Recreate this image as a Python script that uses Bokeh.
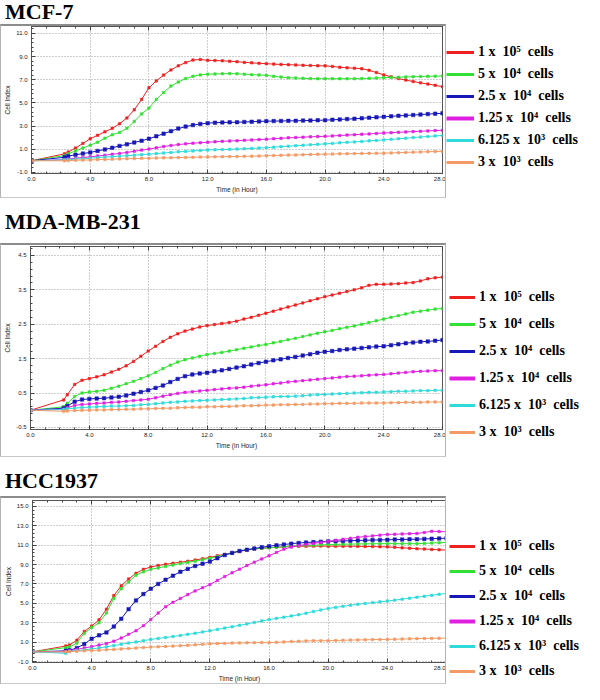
import numpy as np
from bokeh.plotting import figure
from bokeh.layouts import column, row
from bokeh.models import (Range1d, FixedTicker, LinearAxis, NumeralTickFormatter,
                          Legend, LegendItem, Div)
from bokeh.embed import file_html
from bokeh.resources import INLINE

TIME = [0.0, 2.25, 2.5, 3.0, 3.5, 4.0, 4.5, 5.0, 5.5, 6.0,
        6.5, 7.0, 7.5, 8.0, 8.5, 9.0, 9.5, 10.0, 10.5, 11.0,
        11.5, 12.0, 12.5, 13.0, 13.5, 14.0, 14.5, 15.0, 15.5, 16.0,
        16.5, 17.0, 17.5, 18.0, 18.5, 19.0, 19.5, 20.0, 20.5, 21.0,
        21.5, 22.0, 22.5, 23.0, 23.5, 24.0, 24.5, 25.0, 25.5, 26.0,
        26.5, 27.0, 27.5, 28.0]

LABELS = ["1 x  10\u2075  cells", "5 x  10\u2074  cells", "2.5 x  10\u2074  cells",
          "1.25 x  10\u2074  cells", "6.125 x  10\u00b3  cells", "3 x  10\u00b3  cells"]
COLORS = ["#ee2020", "#33e033", "#1818b8", "#e020e0", "#30dada", "#f39a66"]
TITLES = ["MCF-7", "MDA-MB-231", "HCC1937"]

# ---------------- MCF-7 ----------------
MCF7_1E5 = [0, 0.6, 0.75, 1.1, 1.5, 1.9, 2.2, 2.5, 2.8, 3.2,
            3.7, 4.4, 5.3, 6.3, 6.9, 7.4, 7.85, 8.2, 8.48, 8.7,
            8.75, 8.68, 8.66, 8.64, 8.6, 8.56, 8.5, 8.46, 8.42, 8.39,
            8.35, 8.32, 8.3, 8.28, 8.25, 8.23, 8.21, 8.2, 8.15, 8.08,
            8.03, 8.0, 7.95, 7.82, 7.62, 7.42, 7.25, 7.1, 6.97, 6.85,
            6.73, 6.63, 6.52, 6.4]
MCF7_5E4 = [0, 0.45, 0.6, 0.85, 1.1, 1.35, 1.6, 1.95, 2.25, 2.45,
            2.8, 3.4, 4.05, 4.55, 5.3, 5.9, 6.45, 6.8, 7.1, 7.3,
            7.42, 7.48, 7.5, 7.52, 7.53, 7.52, 7.48, 7.44, 7.41, 7.38,
            7.3, 7.23, 7.18, 7.15, 7.12, 7.1, 7.09, 7.09, 7.09, 7.09,
            7.09, 7.09, 7.1, 7.12, 7.15, 7.18, 7.2, 7.22, 7.24, 7.26,
            7.28, 7.3, 7.31, 7.33]
MCF7_25E3 = [0, 0.3, 0.4, 0.52, 0.62, 0.72, 0.85, 0.98, 1.12, 1.28,
             1.42, 1.58, 1.73, 1.9, 2.12, 2.34, 2.56, 2.78, 2.95, 3.08,
             3.18, 3.25, 3.29, 3.31, 3.32, 3.33, 3.35, 3.37, 3.4, 3.42,
             3.43, 3.44, 3.45, 3.45, 3.47, 3.48, 3.5, 3.51, 3.54, 3.57,
             3.6, 3.63, 3.67, 3.72, 3.76, 3.8, 3.84, 3.88, 3.92, 3.95,
             3.99, 4.03, 4.07, 4.1]
MCF7_125E2 = [0, 0.1, 0.15, 0.22, 0.28, 0.34, 0.41, 0.48, 0.56, 0.63,
              0.72, 0.82, 0.92, 1.01, 1.12, 1.23, 1.32, 1.4, 1.46, 1.52,
              1.56, 1.6, 1.64, 1.68, 1.71, 1.73, 1.77, 1.8, 1.83, 1.86,
              1.9, 1.94, 1.98, 2.01, 2.04, 2.07, 2.09, 2.11, 2.15, 2.18,
              2.22, 2.25, 2.29, 2.32, 2.36, 2.4, 2.43, 2.46, 2.49, 2.52,
              2.55, 2.58, 2.61, 2.63]
MCF7_6125 = [0, 0.08, 0.1, 0.14, 0.18, 0.22, 0.27, 0.32, 0.36, 0.4,
             0.44, 0.48, 0.53, 0.57, 0.62, 0.67, 0.72, 0.77, 0.81, 0.85,
             0.89, 0.93, 0.95, 0.97, 0.99, 1.01, 1.04, 1.07, 1.1, 1.13,
             1.17, 1.22, 1.26, 1.3, 1.34, 1.38, 1.42, 1.46, 1.5, 1.55,
             1.59, 1.63, 1.67, 1.72, 1.76, 1.8, 1.85, 1.9, 1.95, 2.0,
             2.05, 2.1, 2.15, 2.19]
MCF7_3E3 = [0, 0.0, 0.02, 0.04, 0.06, 0.07, 0.1, 0.12, 0.14, 0.16,
            0.18, 0.19, 0.21, 0.22, 0.24, 0.25, 0.26, 0.28, 0.29, 0.3,
            0.32, 0.33, 0.34, 0.35, 0.36, 0.37, 0.38, 0.4, 0.41, 0.43,
            0.45, 0.47, 0.49, 0.5, 0.52, 0.54, 0.56, 0.57, 0.58, 0.6,
            0.61, 0.62, 0.63, 0.64, 0.65, 0.66, 0.68, 0.7, 0.72, 0.74,
            0.76, 0.78, 0.8, 0.81]

# ---------------- MDA-MB-231 ----------------
MDA_1E5 = [0, 0.3, 0.45, 0.75, 0.87, 0.92, 0.97, 1.03, 1.11, 1.19,
           1.29, 1.42, 1.57, 1.72, 1.86, 2.0, 2.12, 2.22, 2.3, 2.36,
           2.42, 2.46, 2.49, 2.52, 2.55, 2.59, 2.65, 2.7, 2.76, 2.82,
           2.88, 2.94, 3.0, 3.06, 3.12, 3.18, 3.24, 3.3, 3.35, 3.4,
           3.45, 3.5, 3.56, 3.63, 3.66, 3.66, 3.67, 3.68, 3.7, 3.71,
           3.76, 3.82, 3.85, 3.87]
MDA_5E4 = [0, 0.1, 0.2, 0.4, 0.5, 0.53, 0.55, 0.58, 0.64, 0.7,
           0.77, 0.84, 0.92, 1.0, 1.1, 1.21, 1.31, 1.4, 1.47, 1.52,
           1.57, 1.62, 1.65, 1.68, 1.72, 1.76, 1.8, 1.84, 1.88, 1.91,
           1.96, 2.0, 2.05, 2.09, 2.14, 2.19, 2.24, 2.28, 2.32, 2.37,
           2.41, 2.45, 2.5, 2.55, 2.6, 2.65, 2.7, 2.75, 2.8, 2.85,
           2.88, 2.91, 2.94, 2.96]
MDA_25E3 = [0, 0.06, 0.12, 0.25, 0.31, 0.33, 0.34, 0.35, 0.37, 0.39,
            0.43, 0.48, 0.53, 0.58, 0.65, 0.72, 0.82, 0.91, 0.99, 1.04,
            1.07, 1.09, 1.13, 1.16, 1.2, 1.24, 1.28, 1.33, 1.37, 1.41,
            1.45, 1.48, 1.52, 1.55, 1.59, 1.63, 1.67, 1.7, 1.72, 1.75,
            1.77, 1.79, 1.81, 1.83, 1.85, 1.86, 1.89, 1.92, 1.95, 1.97,
            1.99, 2.0, 2.02, 2.04]
MDA_125E2 = [0, 0.03, 0.07, 0.14, 0.17, 0.18, 0.2, 0.21, 0.23, 0.24,
             0.26, 0.28, 0.3, 0.32, 0.36, 0.41, 0.45, 0.49, 0.52, 0.54,
             0.56, 0.58, 0.6, 0.62, 0.64, 0.65, 0.67, 0.7, 0.72, 0.74,
             0.77, 0.79, 0.82, 0.84, 0.86, 0.88, 0.9, 0.92, 0.94, 0.96,
             0.98, 0.99, 1.0, 1.02, 1.03, 1.04, 1.06, 1.08, 1.1, 1.12,
             1.13, 1.14, 1.15, 1.15]
MDA_6125 = [0, 0.02, 0.04, 0.06, 0.08, 0.09, 0.1, 0.11, 0.12, 0.12,
            0.13, 0.14, 0.16, 0.17, 0.19, 0.21, 0.23, 0.24, 0.26, 0.27,
            0.28, 0.29, 0.3, 0.31, 0.32, 0.33, 0.34, 0.36, 0.37, 0.38,
            0.39, 0.4, 0.4, 0.41, 0.42, 0.44, 0.45, 0.46, 0.47, 0.48,
            0.49, 0.5, 0.51, 0.52, 0.52, 0.53, 0.54, 0.55, 0.55, 0.56,
            0.57, 0.57, 0.58, 0.58]
MDA_3E3 = [0, -0.03, -0.02, -0.01, 0.0, 0.0, 0.01, 0.01, 0.02, 0.02,
           0.03, 0.03, 0.04, 0.04, 0.05, 0.06, 0.06, 0.07, 0.08, 0.09,
           0.09, 0.1, 0.1, 0.11, 0.11, 0.12, 0.13, 0.13, 0.14, 0.15,
           0.15, 0.16, 0.16, 0.17, 0.17, 0.18, 0.18, 0.19, 0.19, 0.2,
           0.2, 0.2, 0.21, 0.21, 0.21, 0.21, 0.22, 0.22, 0.23, 0.23,
           0.23, 0.24, 0.24, 0.24]

# ---------------- HCC1937 ----------------
HCC_1E5 = [0, 0.6, 0.7, 1.2, 2.1, 2.66, 3.3, 4.4, 5.8, 6.8,
           7.5, 8.1, 8.5, 8.75, 8.9, 9.02, 9.13, 9.24, 9.34, 9.46,
           9.6, 9.74, 9.9, 10.05, 10.2, 10.35, 10.5, 10.6, 10.68, 10.72,
           10.78, 10.82, 10.86, 10.89, 10.89, 10.9, 10.9, 10.89, 10.89, 10.89,
           10.89, 10.88, 10.86, 10.85, 10.83, 10.82, 10.77, 10.72, 10.68, 10.63,
           10.6, 10.56, 10.52, 10.49]
HCC_5E4 = [0, 0.43, 0.5, 0.9, 1.9, 2.5, 3.0, 4.0, 5.5, 6.5,
           7.2, 7.9, 8.25, 8.5, 8.65, 8.8, 8.95, 9.1, 9.22, 9.35,
           9.5, 9.64, 9.8, 10.0, 10.2, 10.4, 10.55, 10.63, 10.68, 10.72,
           10.78, 10.84, 10.9, 10.95, 10.98, 11.0, 11.03, 11.05, 11.07, 11.09,
           11.1, 11.12, 11.13, 11.14, 11.15, 11.15, 11.15, 11.15, 11.15, 11.15,
           11.18, 11.21, 11.25, 11.28]
HCC_25E3 = [0, 0.1, 0.15, 0.4, 0.8, 1.35, 1.7, 2.0, 2.6, 3.4,
            4.4, 5.3, 5.95, 6.5, 7.0, 7.43, 7.85, 8.25, 8.55, 8.85,
            9.08, 9.3, 9.65, 9.97, 10.2, 10.4, 10.52, 10.65, 10.78, 10.89,
            10.98, 11.06, 11.15, 11.22, 11.27, 11.31, 11.35, 11.38, 11.41, 11.43,
            11.46, 11.48, 11.5, 11.52, 11.54, 11.55, 11.57, 11.58, 11.6, 11.61,
            11.64, 11.66, 11.69, 11.71]
HCC_125E2 = [0, 0.0, 0.1, 0.25, 0.4, 0.53, 0.7, 0.86, 1.1, 1.42,
             1.8, 2.17, 2.7, 3.32, 4.0, 4.64, 5.1, 5.5, 5.9, 6.28,
             6.6, 6.94, 7.35, 7.76, 8.15, 8.52, 8.9, 9.24, 9.58, 9.9,
             10.25, 10.58, 10.8, 10.95, 11.07, 11.18, 11.28, 11.38, 11.48, 11.6,
             11.7, 11.81, 11.88, 11.95, 12.03, 12.1, 12.12, 12.15, 12.18, 12.2,
             12.3, 12.43, 12.4, 12.37]
HCC_6125 = [0, -0.15, 0.05, 0.12, 0.2, 0.3, 0.4, 0.52, 0.64, 0.78,
            0.9, 1.02, 1.15, 1.28, 1.38, 1.48, 1.58, 1.69, 1.8, 1.92,
            2.05, 2.17, 2.31, 2.45, 2.59, 2.73, 2.88, 3.03, 3.18, 3.32,
            3.45, 3.57, 3.7, 3.82, 3.98, 4.15, 4.32, 4.47, 4.58, 4.69,
            4.8, 4.9, 4.98, 5.07, 5.15, 5.23, 5.33, 5.43, 5.53, 5.63,
            5.73, 5.83, 5.93, 6.02]
HCC_3E3 = [0, 0.0, 0.03, 0.07, 0.1, 0.13, 0.17, 0.21, 0.25, 0.3,
           0.34, 0.39, 0.44, 0.49, 0.52, 0.56, 0.59, 0.63, 0.68, 0.72,
           0.77, 0.82, 0.85, 0.87, 0.9, 0.92, 0.93, 0.94, 0.95, 0.95,
           0.98, 1.02, 1.06, 1.09, 1.12, 1.14, 1.15, 1.15, 1.17, 1.19,
           1.21, 1.23, 1.24, 1.26, 1.27, 1.28, 1.3, 1.32, 1.34, 1.36,
           1.38, 1.39, 1.4, 1.41]

MCF7_TICKS = [-1.0, 1.0, 3.0, 5.0, 7.0, 9.0, 11.0]
MDA_TICKS = [-0.5, 0.5, 1.5, 2.5, 3.5, 4.5]
HCC_TICKS = [-1.0, 1.0, 3.0, 5.0, 7.0, 9.0, 11.0, 13.0, 15.0]
X_TICKS = [0.0, 4.0, 8.0, 12.0, 16.0, 20.0, 24.0, 28.0]

for s in [MCF7_1E5, MCF7_5E4, MCF7_25E3, MCF7_125E2, MCF7_6125, MCF7_3E3,
          MDA_1E5, MDA_5E4, MDA_25E3, MDA_125E2, MDA_6125, MDA_3E3,
          HCC_1E5, HCC_5E4, HCC_25E3, HCC_125E2, HCC_6125, HCC_3E3]:
    assert len(s) == len(TIME), len(s)

MARKER_SIZES = [2.5, 2.5, 3.5, 2.5, 2.5, 2.5]
LEG_WIDTHS = [3, 3, 3, 4, 3, 3]
SERIF = "Liberation Serif"
SANS = "Liberation Sans"
X_MINOR = list(np.arange(0, 28.01, 1.0))
BOX_STYLE = {"border-left": "1px solid #b4b4b4", "border-right": "1px solid #b4b4b4",
             "border-bottom": "1px solid #c8c8c8", "border-top": "2px solid #8c8c8c"}
PLOT_W = 446
LEG_W = 135


def title_div(text, height, line_h):
    return Div(text=text, width=584, height=height, margin=0,
               styles={"font-family": SERIF, "font-weight": "bold", "font-size": "22px",
                       "line-height": f"{line_h}px", "color": "black",
                       "text-indent": "5px", "overflow": "visible"})


def make_plot(series, yr, yticks, yminor, height, top, bottom, right):
    p = figure(width=PLOT_W, height=height, x_range=Range1d(0, 28), y_range=Range1d(*yr),
               output_backend="svg", toolbar_location=None, title=None,
               min_border_left=26, min_border_right=right,
               min_border_top=top, min_border_bottom=bottom, styles=BOX_STYLE)
    p.background_fill_color = "white"
    p.border_fill_color = "white"
    p.outline_line_color = "#555555"
    p.outline_line_width = 1

    p.xaxis.ticker = FixedTicker(ticks=X_TICKS, minor_ticks=X_MINOR)
    p.yaxis.ticker = FixedTicker(ticks=yticks, minor_ticks=yminor)
    p.xaxis.formatter = NumeralTickFormatter(format="0.0")
    p.yaxis.formatter = NumeralTickFormatter(format="0.0")
    p.xaxis.axis_label = "Time (in Hour)"
    p.yaxis.axis_label = "Cell Index"
    for ax in (p.xaxis[0], p.yaxis[0]):
        ax.major_tick_in = 4
        ax.major_tick_out = 0
        ax.minor_tick_in = 2
        ax.minor_tick_out = 0
        ax.axis_line_color = "#555555"
        ax.major_tick_line_color = "#444444"
        ax.minor_tick_line_color = "#444444"
        ax.major_label_text_font = SANS
        ax.major_label_text_font_size = "6px"
        ax.major_label_text_color = "#222222"
        ax.axis_label_text_font = SANS
        ax.axis_label_text_font_size = "6.5px"
        ax.axis_label_text_font_style = "normal"
        ax.axis_label_text_color = "#222222"
    p.xaxis.major_label_standoff = 3
    p.xaxis.axis_label_standoff = 2
    p.yaxis.major_label_standoff = 4
    p.yaxis.axis_label_standoff = 2

    top_ax = LinearAxis(ticker=FixedTicker(ticks=X_TICKS, minor_ticks=X_MINOR),
                        major_label_overrides={t: "" for t in X_TICKS},
                        major_tick_in=4, major_tick_out=0, minor_tick_in=2, minor_tick_out=0,
                        axis_line_color="#555555", major_tick_line_color="#444444",
                        minor_tick_line_color="#444444", major_label_standoff=0,
                        major_label_text_font_size="1px")
    p.add_layout(top_ax, "above")

    p.grid.grid_line_color = "#9c9c9c"
    p.grid.grid_line_dash = "1 2"
    p.grid.grid_line_width = 1

    for vals, col, ms in zip(series, COLORS, MARKER_SIZES):
        p.line(TIME, vals, line_color=col, line_width=1)
        p.scatter(TIME, vals, marker="square", size=ms, fill_color=col, line_color=col,
                  line_width=0.5)
    return p


def make_legend(height, loc, spacing, glyph_w):
    lf = figure(width=LEG_W, height=height, x_range=Range1d(0, 1), y_range=Range1d(0, 1),
                output_backend="svg", toolbar_location=None, title=None,
                x_axis_location=None, y_axis_location=None,
                min_border=0, min_border_left=0, min_border_right=0,
                min_border_top=0, min_border_bottom=0)
    lf.grid.visible = False
    lf.outline_line_color = None
    lf.background_fill_color = "white"
    lf.border_fill_color = "white"
    items = []
    for lab, col, lw in zip(LABELS, COLORS, LEG_WIDTHS):
        # legend swatch only: its points lie outside the visible range
        proxy = lf.line(x=[5, 6], y=[5, 6], line_color=col, line_width=lw)
        items.append(LegendItem(label=lab, renderers=[proxy]))
    leg = Legend(items=items, location=loc, orientation="vertical",
                 spacing=spacing, padding=0, margin=0,
                 glyph_width=glyph_w, glyph_height=20, label_height=20,
                 label_standoff=4, label_text_font=SERIF, label_text_font_style="bold",
                 label_text_font_size="14px", label_text_color="black",
                 border_line_color=None, background_fill_alpha=0)
    lf.add_layout(leg, "center")
    return column(lf, spacing=0)


mcf_minor = list(np.arange(-1.0, 11.61, 0.4))
mda_minor = list(np.arange(-0.5, 4.76, 0.2))
hcc_minor = list(np.arange(-1.0, 15.61, 0.4))

p1 = make_plot([MCF7_1E5, MCF7_5E4, MCF7_25E3, MCF7_125E2, MCF7_6125, MCF7_3E3],
               (-1.1, 11.6), MCF7_TICKS, mcf_minor, 174, 0, 27, 5)
p2 = make_plot([MDA_1E5, MDA_5E4, MDA_25E3, MDA_125E2, MDA_6125, MDA_3E3],
               (-0.56, 4.76), MDA_TICKS, mda_minor, 214, 1, 30, 5)
p3 = make_plot([HCC_1E5, HCC_5E4, HCC_25E3, HCC_125E2, HCC_6125, HCC_3E3],
               (-1.1, 15.6), HCC_TICKS, hcc_minor, 188, 2, 24, 1)

l1 = make_legend(174, (0, 26), 2, 28)
l2 = make_legend(214, (3, 15), 7, 26)
l3 = make_legend(188, (3, 3), 5, 26)

layout = column(
    title_div(TITLES[0], 24, 24), row(p1, l1, spacing=0),
    title_div(TITLES[1], 45, 47), row(p2, l2, spacing=0),
    title_div(TITLES[2], 39, 47), row(p3, l3, spacing=0),
    spacing=0)
open("out.html", "w").write(file_html(layout, INLINE))
